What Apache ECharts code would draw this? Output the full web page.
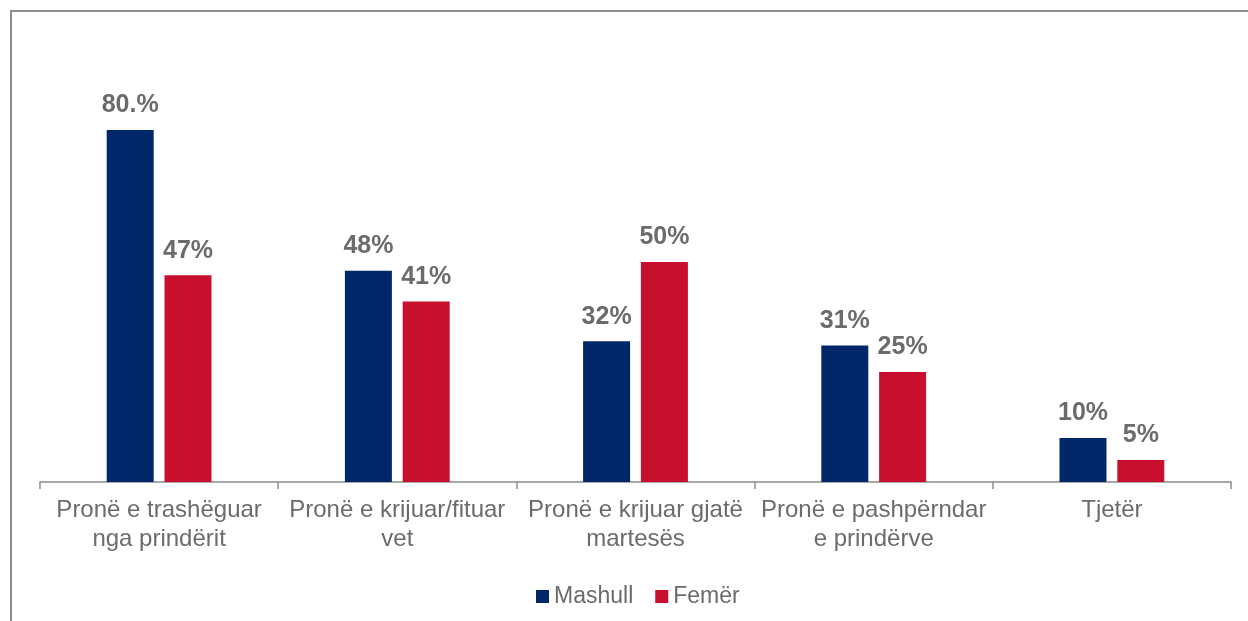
<!DOCTYPE html>
<html>
<head>
<meta charset="utf-8">
<script src="https://cdn.jsdelivr.net/npm/echarts@6/dist/echarts.min.js"></script>
<style>
  html, body { margin: 0; padding: 0; background: #fff; }
  #chart { width: 1248px; height: 621px; }
</style>
</head>
<body>
<div id="chart"></div>
<script>
// kategorite
const categories = [
  "Pronë e trashëguar\nnga prindërit",
  "Pronë e krijuar/fituar\nvet",
  "Pronë e krijuar gjatë\nmartesës",
  "Pronë e pashpërndar\ne prindërve",
  "Tjetër"
];
const seriesNames = ["Mashull", "Femër"];
const maleValues = [80, 48, 32, 31, 10];
const femaleValues = [47, 41, 50, 25, 5];
// etiketat sic shfaqen ne grafik
const maleLabels = ["80.%", "48%", "32%", "31%", "10%"];
const femaleLabels = ["47%", "41%", "50%", "25%", "5%"];

const fontFamily = "'Liberation Sans', Arial, sans-serif";

const labelStyle = (texts) => ({
  show: true,
  position: "top",
  distance: 12,
  fontSize: 25,
  fontWeight: "bold",
  color: "#6b6b6b",
  fontFamily: fontFamily,
  formatter: (p) => texts[p.dataIndex]
});

const chart = echarts.init(document.getElementById("chart"));
chart.setOption({
  animation: false,
  textStyle: { fontFamily: fontFamily },
  graphic: [
    {
      type: "rect",
      shape: { x: 11, y: 11, width: 1400, height: 800 },
      style: { fill: "none", stroke: "#8c8c8c", lineWidth: 2 },
      silent: true
    }
  ],
  grid: { left: 40, right: 17, top: 42, bottom: 139 },
  legend: {
    left: 531,
    top: 580,
    itemWidth: 13,
    itemHeight: 13,
    itemGap: 22,
    icon: "rect",
    textStyle: { fontSize: 23, color: "#6b6b6b", fontFamily: fontFamily },
    data: seriesNames
  },
  xAxis: {
    type: "category",
    data: categories,
    axisLine: { lineStyle: { color: "#8c8c8c", width: 1.5 } },
    axisTick: { show: true, length: 7, lineStyle: { color: "#8c8c8c", width: 1.5 } },
    axisLabel: {
      fontSize: 24,
      lineHeight: 29,
      margin: 14,
      color: "#6b6b6b",
      interval: 0
    }
  },
  yAxis: {
    type: "value",
    min: 0,
    max: 100,
    show: false,
    splitLine: { show: false }
  },
  series: [
    {
      name: seriesNames[0],
      type: "bar",
      data: maleValues,
      barWidth: 47,
      barGap: "23%",
      itemStyle: { color: "#002868" },
      label: labelStyle(maleLabels)
    },
    {
      name: seriesNames[1],
      type: "bar",
      data: femaleValues,
      barWidth: 47,
      itemStyle: { color: "#c8102e" },
      label: labelStyle(femaleLabels)
    }
  ]
});
</script>
</body>
</html>
